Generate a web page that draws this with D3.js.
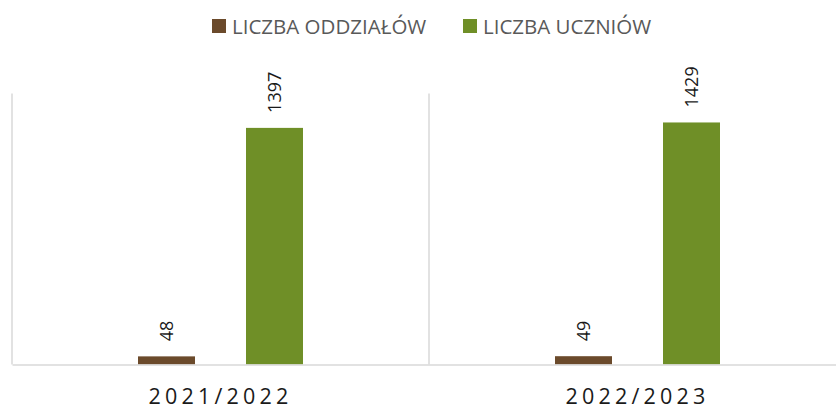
<!DOCTYPE html>
<html>
<head>
<meta charset="utf-8">
<script src="https://cdn.jsdelivr.net/npm/d3@7"></script>
<style>
  html, body { margin: 0; padding: 0; background: #fff; }
  svg { display: block; font-family: "Open Sans", "DejaVu Sans", sans-serif; }
</style>
</head>
<body>
<svg id="chart" width="836" height="409"></svg>
<script>
// School years and the two counted series
const years = ["2021/2022", "2022/2023"];
const seriesNames = ["LICZBA ODDZIAŁÓW", "LICZBA UCZNIÓW"];
const oddzialy = [48, 49];
const uczniowie = [1397, 1429];
const colors = ["#6b4a2b", "#6f8f27"];

const svg = d3.select("#chart");
const plot = { left: 12, right: 846, top: 93.5, bottom: 364.5 };

const rows = years.map((y, i) => ({ year: y, values: [oddzialy[i], uczniowie[i]] }));

const x0 = d3.scaleBand().domain(years).range([plot.left, plot.right]);
const x1 = d3.scalePoint().domain(seriesNames).range([-54, 54]);
const barW = 57;
const y = d3.scaleLinear().domain([0, 1600]).range([plot.bottom, plot.top]);

// Category separators
svg.append("g")
  .selectAll("line")
  .data(years)
  .join("line")
  .attr("x1", d => x0(d)).attr("x2", d => x0(d))
  .attr("y1", plot.top).attr("y2", plot.bottom)
  .attr("stroke", "#d9d9d9").attr("stroke-width", 1.5);

// Bars
const groups = svg.append("g").selectAll("g")
  .data(rows)
  .join("g")
  .attr("transform", d => `translate(${x0(d.year) + x0.bandwidth() / 2},0)`);

groups.selectAll("rect")
  .data(d => d.values.map((v, i) => ({ name: seriesNames[i], value: v, i })))
  .join("rect")
  .attr("x", d => x1(d.name) - barW / 2)
  .attr("width", barW)
  .attr("y", d => y(d.value))
  .attr("height", d => y(0) - y(d.value))
  .attr("fill", d => colors[d.i]);

// Value labels, rotated
groups.selectAll("text")
  .data(d => d.values.map((v, i) => ({ name: seriesNames[i], value: v })))
  .join("text")
  .attr("transform", d => `translate(${x1(d.name) + 6.5},${y(d.value) - 15}) rotate(-90)`)
  .attr("text-anchor", "start")
  .attr("font-size", 18)
  .attr("fill", "#1a1a1a")
  .text(d => d.value);

// Horizontal axis
const xAxis = svg.append("g")
  .attr("transform", `translate(0,${plot.bottom})`)
  .call(d3.axisBottom(x0).tickSize(0).tickPadding(24));
xAxis.select(".domain").attr("stroke", "#d9d9d9").attr("stroke-width", 1.5);
xAxis.selectAll("text")
  .attr("font-size", 21.5)
  .attr("letter-spacing", "4.2px")
  .attr("fill", "#1a1a1a")
  .attr("font-family", "'Open Sans', sans-serif");

// Legend
const legendX = [212, 463];
const legend = svg.append("g").selectAll("g")
  .data(seriesNames)
  .join("g")
  .attr("transform", (d, i) => `translate(${legendX[i]},19)`);
legend.append("rect")
  .attr("width", 14).attr("height", 14)
  .attr("fill", (d, i) => colors[i]);
legend.append("text")
  .attr("x", 20).attr("y", 14.5)
  .attr("font-size", 20.5)
  .attr("fill", "#595959")
  .text(d => d);
</script>
</body>
</html>
